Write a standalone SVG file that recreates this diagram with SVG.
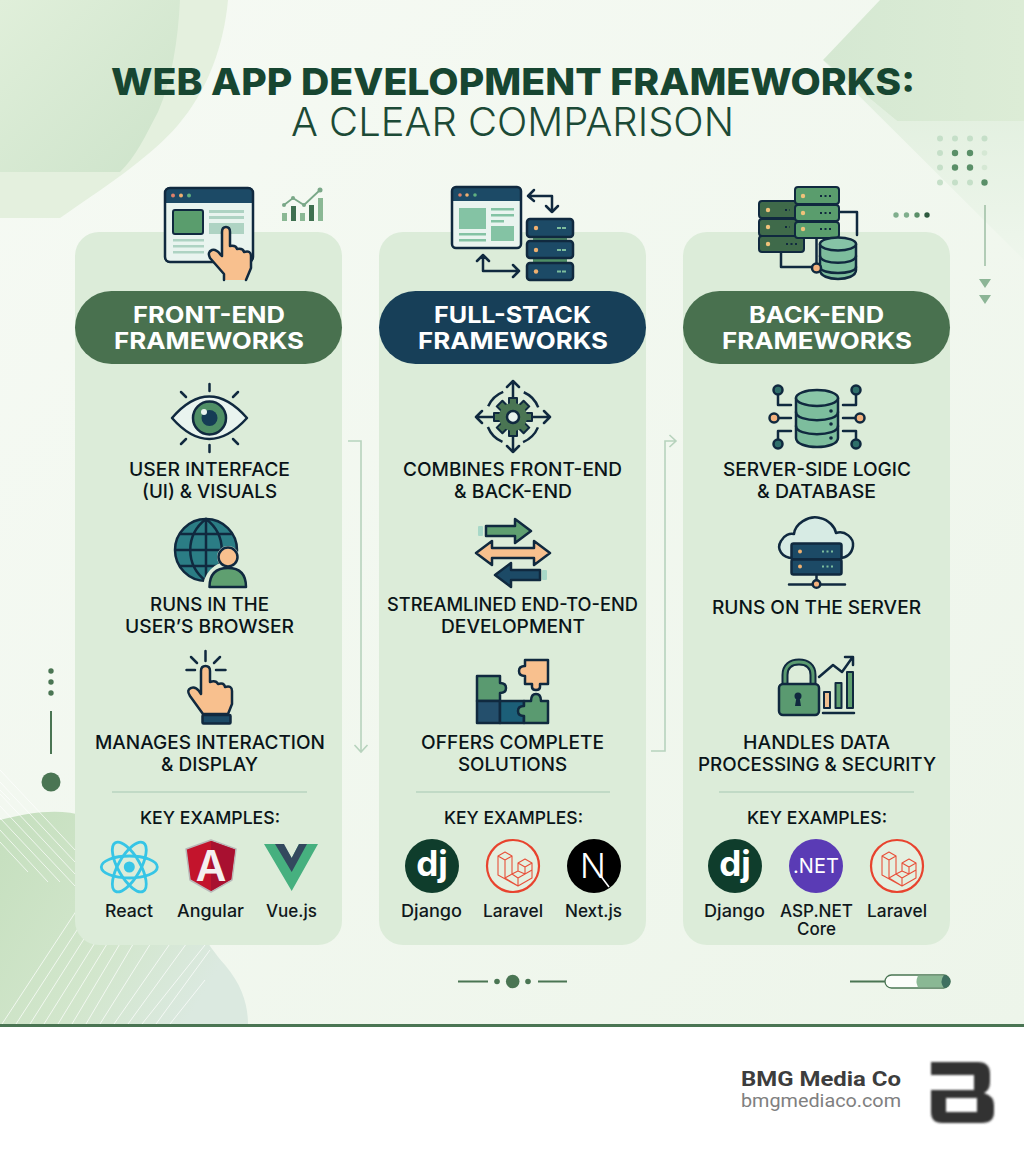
<svg xmlns="http://www.w3.org/2000/svg" xmlns:xlink="http://www.w3.org/1999/xlink" width="1024" height="1154" viewBox="0 0 1024 1154">
<style>
text{font-family:"Inter","Liberation Sans",sans-serif}
.card{fill:#dcecd9}
.t1{font-size:37px;font-weight:800;fill:#174631}
.t2{font-size:40px;font-weight:300;fill:#1c4a36}
.pt{font-size:23px;font-weight:700;fill:#fff}
.bt{font-size:19px;font-weight:500;fill:#0a1418}
.kt{font-size:17.5px;font-weight:500;fill:#0a1418}
.nt{font-size:17px;font-weight:500;fill:#10181c}
.ol{fill:none;stroke:#10293f;stroke-width:2.5;stroke-linecap:round;stroke-linejoin:round}
.o{stroke:#10293f;stroke-width:2.5;stroke-linejoin:round;stroke-linecap:round}
.thin{stroke:#10293f;stroke-width:2;stroke-linejoin:round}
.div{stroke:#b9d4bf;stroke-width:1.5}
.conn{fill:none;stroke:#b7d3bd;stroke-width:1.6}
.navy{fill:#1c4a66}.grn{fill:#5f9f70}.skin{fill:#f8c08e}.mint{fill:#7dbd9d}
.lar{fill:none;stroke:#e8503a;stroke-width:1.1;stroke-linejoin:round}
.dj{font-size:35px;font-weight:700;fill:#fff}
</style>
<defs>
<linearGradient id="bg" x1="0" y1="0" x2="1" y2="1"><stop offset="0" stop-color="#f6faf4"/><stop offset="1" stop-color="#edf5ea"/></linearGradient>
<linearGradient id="tl" x1="0" y1="0" x2="1" y2="1"><stop offset="0" stop-color="#e0efda"/><stop offset="1" stop-color="#cde3ca"/></linearGradient>
<linearGradient id="tr" x1="0" y1="0" x2="1" y2="0"><stop offset="0" stop-color="#d5e8d2"/><stop offset="1" stop-color="#dcecd6"/></linearGradient>
<linearGradient id="trb" x1="0" y1="0" x2="0" y2="1"><stop offset="0" stop-color="#dfeedc"/><stop offset="1" stop-color="#eef6ec"/></linearGradient>
<linearGradient id="bl" x1="0" y1="0" x2="1" y2="0.5"><stop offset="0" stop-color="#c5dfbe"/><stop offset="0.6" stop-color="#d2e6cc"/><stop offset="1" stop-color="#dbe9e0"/></linearGradient>
<filter id="blur" x="-10%" y="-10%" width="120%" height="120%"><feGaussianBlur stdDeviation="1.3"/></filter>
<g id="laravel">
<circle r="26" fill="#e4f0e0" stroke="#e8432e" stroke-width="2.2"/>
<path class="lar" d="M-15 -10L-8 -14L-1 -10L-8 -6ZM-15 -10V9L5 20L19 12V-3L12 -7L5 -3V5L-1 8V-10M-8 -6V12L5 20V12L19 4M-8 12L-1 8L5 12M5 -3L12 1L19 -3M12 1V8M5 5L12 8"/>
</g>
</defs>

<g id="background">
<rect width="1024" height="1027" fill="url(#bg)"/>
<path d="M0 0H228C224 45 208 90 178 125C150 158 100 190 60 218H0Z" fill="#e4f0de"/>
<path d="M0 0H180C178 40 172 80 158 112C146 135 135 158 120 172H0Z" fill="url(#tl)"/>
<path d="M823 60L1024 260V121H897Z" fill="url(#trb)"/>
<path d="M880 0H1024V121H897L823 60Z" fill="url(#tr)"/>
<path d="M0 820C30 812 60 808 85 816C150 835 190 925 225 965C242 985 248 1005 248 1024H0Z" fill="url(#bl)"/>
<g stroke="#fff" stroke-width="1" stroke-opacity=".7" fill="none">
<path d="M0 770L75 850M0 782L75 862M0 794L75 874M0 806L75 886M0 818L60 882M0 830L48 882M0 842L28 872M0 790L10 800"/>
<path d="M2 1024L90 890M16 1024L103 890M30 1024L115 890M44 1024L128 890M58 1024L140 890M72 1024L152 890M86 1024L165 890M100 1024L178 900M114 1024L190 915M128 1024L200 925M142 1024L205 945M156 1024L210 950M170 1024L205 980"/>
</g>
</g>

<g id="decor">
<g fill="#c5dfc8"><circle cx="940" cy="138.500" r="3"/><circle cx="955" cy="138.500" r="3"/><circle cx="970" cy="138.500" r="3"/><circle cx="984.500" cy="138.500" r="3"/><circle cx="940" cy="153" r="3"/><circle cx="984.500" cy="153" r="2.800" fill="#d5e8d4"/><circle cx="940" cy="167.500" r="3"/><circle cx="984.500" cy="167.500" r="2.800" fill="#d5e8d4"/><circle cx="940" cy="182.500" r="3"/><circle cx="955" cy="182.500" r="3"/><circle cx="970" cy="182.500" r="3"/></g>
<g fill="#5a8f68"><circle cx="955" cy="153" r="3.200"/><circle cx="970" cy="153" r="3.200"/><circle cx="955" cy="167.500" r="3.200"/><circle cx="970" cy="167.500" r="3.200"/><circle cx="984.500" cy="182.500" r="3.200"/></g>
<circle cx="896" cy="215" r="2.700" fill="#7fae8c"/><circle cx="906.500" cy="215" r="2.700" fill="#7fae8c"/><circle cx="917" cy="215" r="2.700" fill="#5a8f68"/><circle cx="927" cy="215" r="2.700" fill="#2d5a3e"/>
<path d="M985 205V266" stroke="#9dbea3" stroke-width="1.500"/>
<path d="M979 279H991L985 288ZM979 295H991L985 304Z" fill="#8cb596"/>
<g fill="#4a7553"><circle cx="51" cy="671" r="2.700"/><circle cx="51" cy="682" r="2.700"/><circle cx="51" cy="693" r="2.700"/><rect x="50" y="711" width="2" height="43"/><circle cx="51" cy="782" r="9.500"/></g>
<g stroke="#4a7553" stroke-width="1.800"><path d="M458 981.500H488M538 981.500H567M850 981.500H885"/></g>
<g fill="#4a7553"><circle cx="497" cy="981.500" r="2.800"/><circle cx="512.700" cy="981.500" r="6.800"/><circle cx="528" cy="981.500" r="2.800"/></g>
<rect x="885" y="975" width="65" height="13" rx="6.500" fill="#fbfdfa" stroke="#4a7553" stroke-width="1.300"/>
<path d="M918 975.700H944V987.300H918Q915 981.500 918 975.700Z" fill="#8ab894"/>
<path d="M944 975A6.500 6.500 0 0 1 944 988Q939 981.500 944 975Z" fill="#3f6f60"/>
</g>

<g id="title">
<text class="t1" x="111" y="95" textLength="804" lengthAdjust="spacingAndGlyphs">WEB APP DEVELOPMENT FRAMEWORKS:</text>
<text class="t2" x="291" y="136" textLength="443" lengthAdjust="spacingAndGlyphs">A CLEAR COMPARISON</text>
</g>

<g id="connectors">
<path class="conn" d="M348 441H361V751M354.500 745L361 752L367.500 745"/>
<path class="conn" d="M651 751H665V441H675M669.500 435L676 441L669.500 447"/>
</g>

<g id="front-end">
<rect class="card" x="75" y="232" width="267" height="713" rx="24"/>
<g id="fe-browser-icon">
<rect class="thin" x="165" y="188" width="88" height="74" rx="5" fill="#e9f4ef" stroke-width="2.500"/>
<path class="navy" d="M165 203V193Q165 188 170 188H248Q253 188 253 193V203Z"/>
<rect class="ol" x="165" y="188" width="88" height="74" rx="5"/>
<circle cx="173" cy="195.500" r="2" fill="#e0806a"/><circle cx="181" cy="195.500" r="2" fill="#f0b070"/><circle cx="189" cy="195.500" r="2" fill="#60b080"/>
<rect class="thin" x="173" y="210" width="30" height="24" rx="2" fill="#5a9d6d"/>
<g fill="#aed3c3"><rect x="209" y="210" width="35" height="3"/><rect x="209" y="216" width="35" height="3"/><rect x="209" y="223" width="35" height="11"/><rect x="173" y="239" width="31" height="2.500"/><rect x="173" y="245" width="31" height="2.500"/><rect x="173" y="251" width="31" height="2.500"/></g>
<path class="skin o" d="M224 280V274L210 258Q207 252 212 250Q216 249 220 254L222 256V232Q222 227 226 227Q230 227 230 232V246Q236 245 237 249Q243 248 244 252Q251 250 251 256V268L246 280"/>
</g>
<g id="fe-chart-icon">
<rect x="282" y="213" width="5" height="8" fill="#8ab894"/><rect x="291" y="206" width="5" height="15" fill="#3f7050"/><rect x="300" y="213" width="5" height="8" fill="#8ab894"/><rect x="309" y="205" width="5" height="16" fill="#3f7050"/><rect x="318" y="198" width="5" height="23" fill="#8ab894"/>
<path d="M284 205L293 198L304 205L320 190" fill="none" stroke="#7aa888" stroke-width="1.800"/>
<g fill="#7aa888"><circle cx="284" cy="205" r="2"/><circle cx="293" cy="198" r="2"/><circle cx="304" cy="205" r="2"/><circle cx="320" cy="190" r="2.500"/></g>
</g>
<rect x="75" y="291" width="267" height="73" rx="36.500" fill="#49714f"/>
<text class="pt" x="133" y="323" textLength="152" lengthAdjust="spacingAndGlyphs">FRONT-END</text>
<text class="pt" x="114" y="349" textLength="190" lengthAdjust="spacingAndGlyphs">FRAMEWORKS</text>
<g id="fe-eye">
<path class="o" d="M172 418Q209 375 247 418Q209 460 172 418Z" fill="#e9f4ef"/>
<circle class="o" cx="209.500" cy="418" r="16.500" fill="#4f8f66"/><circle cx="209.500" cy="418" r="8" fill="#153c55"/><circle cx="204" cy="412" r="3" fill="#e9f4ef"/>
<path class="ol" d="M209.500 384V391M209.500 445V452M181 392L186 397M238 392L233 397M181 444L186 439M238 444L233 439"/>
<text class="bt" x="129" y="476" textLength="161" lengthAdjust="spacingAndGlyphs">USER INTERFACE</text>
<text class="bt" x="142" y="498" textLength="135" lengthAdjust="spacingAndGlyphs">(UI) &amp; VISUALS</text>
</g>
<g id="fe-globe">
<circle class="o" cx="206" cy="550" r="31" fill="#2b7d85"/>
<path class="ol" d="M206 519V581M176 550H236M180 534H232M180 566H232M206 519C185 535 185 565 206 581M206 519C227 535 227 565 206 581"/>
<path d="M206 589A20 22 0 0 1 250 589Z" fill="#dcecd9" stroke="#dcecd9" stroke-width="6"/>
<circle cx="228" cy="557" r="11" fill="#dcecd9"/>
<circle class="o" cx="228" cy="557" r="9.500" fill="#f8c08e"/>
<path class="grn o" d="M209.500 587Q209.500 568 228 568Q246 568 246 587Z"/>
<text class="bt" x="150" y="611" textLength="119" lengthAdjust="spacingAndGlyphs">RUNS IN THE</text>
<text class="bt" x="125" y="633" textLength="169" lengthAdjust="spacingAndGlyphs">USER’S BROWSER</text>
</g>
<g id="fe-click">
<path class="ol" d="M205.500 651V661M186.500 670H195M216 670H225.500M191 657L197 663M220 657L214 663"/>
<path class="skin o" d="M203 714L190 696Q186 690 191 688Q195 686 199 691L201 694V671Q201 666 205.500 666Q210 666 210 671V682Q216 680 218 684Q224 682 225 687Q232 685 232 691V704L228 714Z"/>
<rect class="o navy" x="202.500" y="715" width="28" height="8.500" rx="1"/>
<text class="bt" x="95" y="749" textLength="230" lengthAdjust="spacingAndGlyphs">MANAGES INTERACTION</text>
<text class="bt" x="161" y="771" textLength="97" lengthAdjust="spacingAndGlyphs">&amp; DISPLAY</text>
</g>
<path class="div" d="M112 792H307"/>
<text class="kt" x="140" y="824" textLength="140" lengthAdjust="spacingAndGlyphs">KEY EXAMPLES:</text>
<g id="react-logo" fill="none" stroke="#36c5e6" stroke-width="2.800">
<ellipse cx="129.300" cy="867" rx="28" ry="11"/><ellipse cx="129.300" cy="867" rx="28" ry="11" transform="rotate(60 129.300 867)"/><ellipse cx="129.300" cy="867" rx="28" ry="11" transform="rotate(120 129.300 867)"/>
<circle cx="129.300" cy="867" r="5.500" fill="#36c5e6" stroke="none"/>
</g>
<text class="nt" x="105" y="917" textLength="48" lengthAdjust="spacingAndGlyphs">React</text>
<g id="angular-logo">
<path d="M211 840L236 849L232 880L211 892L190 880L186 849Z" fill="#c3142c" stroke="#b9b9b9" stroke-width="1.500" stroke-linejoin="round"/>
<path d="M211 841L235 849.500L231 879.500L211 891Z" fill="#a81030"/>
<text x="211" y="881" text-anchor="middle" font-size="42" font-weight="600" fill="#f4f0f0">A</text>
</g>
<text class="nt" x="177" y="917" textLength="67" lengthAdjust="spacingAndGlyphs">Angular</text>
<g id="vue-logo">
<path d="M264 844H283L291.700 858L299 844H318L291.700 891Z" fill="#46b07f"/>
<path d="M275 844H284L291.700 858L299 844H307L291.700 872Z" fill="#33495e"/>
</g>
<text class="nt" x="266" y="917" textLength="51" lengthAdjust="spacingAndGlyphs">Vue.js</text>
</g>

<g id="full-stack">
<rect class="card" x="379" y="232" width="267" height="713" rx="24"/>
<g id="fs-top-icon">
<rect x="452" y="187" width="69" height="61" rx="4" fill="#e9f4ef"/>
<path class="navy" d="M452 201V191Q452 187 456 187H517Q521 187 521 191V201Z"/>
<rect class="ol" x="452" y="187" width="69" height="61" rx="4"/>
<circle cx="460" cy="195" r="1.800" fill="#e0806a"/><circle cx="467" cy="195" r="1.800" fill="#f0b070"/><circle cx="475" cy="195" r="1.800" fill="#60b080"/>
<g fill="#84c3a4"><rect x="459" y="208" width="27" height="21"/><rect x="491" y="208" width="23" height="2.500"/><rect x="491" y="214" width="23" height="2.500"/><rect x="491" y="220" width="13" height="2.500"/><rect x="491" y="226" width="23" height="15"/><rect x="459" y="233" width="27" height="2.500"/><rect x="459" y="239" width="27" height="2.500"/></g>
<rect x="533" y="236" width="34" height="6" fill="#4f8f66"/><rect x="533" y="258" width="34" height="6" fill="#4f8f66"/>
<rect class="o navy" x="527" y="219" width="46" height="18" rx="3"/><rect class="o navy" x="527" y="241" width="46" height="17" rx="3"/><rect class="o navy" x="527" y="263" width="46" height="17" rx="3"/>
<g fill="#f0b070"><circle cx="536" cy="228" r="2.200"/><circle cx="536" cy="250" r="2.200"/><circle cx="536" cy="271.500" r="2.200"/></g>
<path d="M557 228H566M557 250H566M557 271.500H566" stroke="#7dbd9d" stroke-width="2" stroke-dasharray="4 1"/>
<path class="ol" d="M534 190L528 196L534 201M528 196H552V212M546 206L552 212L558 206"/>
<path class="ol" d="M477 261L483 255L489 261M483 255V271H519M513 265L519 271L513 277"/>
</g>
<rect x="379" y="291" width="267" height="73" rx="36.500" fill="#173f58"/>
<text class="pt" x="434" y="323" textLength="157" lengthAdjust="spacingAndGlyphs">FULL-STACK</text>
<text class="pt" x="418" y="349" textLength="190" lengthAdjust="spacingAndGlyphs">FRAMEWORKS</text>
<g id="fs-gear">
<path class="ol" d="M513 381V400M513 434V452M476 417H495M531 417H550M507 387L513 381L519 387M507 446L513 452L519 446M482 411L476 417L482 423M544 411L550 417L544 423"/>
<circle cx="513" cy="417" r="27" fill="none" stroke="#10293f" stroke-width="2.500" stroke-dasharray="21.400 21" stroke-dashoffset="-10.600"/>
<g class="thin" fill="#10293f"><rect x="509" y="398" width="8" height="38"/><rect x="509" y="398" width="8" height="38" transform="rotate(45 513 417)"/><rect x="509" y="398" width="8" height="38" transform="rotate(90 513 417)"/><rect x="509" y="398" width="8" height="38" transform="rotate(135 513 417)"/></g>
<g fill="#4a7553"><rect x="510" y="399" width="6" height="36"/><rect x="510" y="399" width="6" height="36" transform="rotate(45 513 417)"/><rect x="510" y="399" width="6" height="36" transform="rotate(90 513 417)"/><rect x="510" y="399" width="6" height="36" transform="rotate(135 513 417)"/><circle cx="513" cy="417" r="14"/></g>
<circle class="o" cx="513" cy="417" r="6" fill="#e9f4ef"/>
<text class="bt" x="403" y="476" textLength="219" lengthAdjust="spacingAndGlyphs">COMBINES FRONT-END</text>
<text class="bt" x="454" y="498" textLength="118" lengthAdjust="spacingAndGlyphs">&amp; BACK-END</text>
</g>
<g id="fs-arrows">
<rect x="478" y="526" width="5" height="10" rx="1" fill="#a8d8c8"/><rect x="542" y="570" width="5" height="10" rx="1" fill="#a8d8c8"/>
<path class="grn o" d="M486 526H515V519L531 531L515 543V536H486Z"/>
<path class="skin o" d="M476 553L492 541V548H534V541L550 553L534 565V558H492V565Z"/>
<path class="navy o" d="M540 570H511V563L495 575L511 587V580H540Z"/>
<text class="bt" x="387" y="611" textLength="251" lengthAdjust="spacingAndGlyphs">STREAMLINED END-TO-END</text>
<text class="bt" x="441" y="633" textLength="144" lengthAdjust="spacingAndGlyphs">DEVELOPMENT</text>
</g>
<g id="fs-puzzle">
<path class="o" fill="#5a9a70" d="M477 676H500V683Q506 683 506 688Q506 693 500 693V701H477Z"/>
<rect class="o" x="477" y="701" width="23" height="22" fill="#244f6c"/>
<rect class="o" x="500" y="701" width="24" height="22" fill="#1c5f78"/>
<path class="o" fill="#5a9a70" d="M524 701H531Q531 694 536 694Q541 694 541 701H548V723H524V716Q518 716 518 711Q518 706 524 706Z"/>
<path class="o skin" d="M525 660H548V684H540V687Q540 690 536 690Q532 690 532 687V684H525V676Q519 676 519 671Q519 666 525 666Z"/>
<text class="bt" x="421" y="749" textLength="183" lengthAdjust="spacingAndGlyphs">OFFERS COMPLETE</text>
<text class="bt" x="458" y="771" textLength="109" lengthAdjust="spacingAndGlyphs">SOLUTIONS</text>
</g>
<path class="div" d="M416 792H610"/>
<text class="kt" x="444" y="824" textLength="139" lengthAdjust="spacingAndGlyphs">KEY EXAMPLES:</text>
<g id="fs-django"><circle cx="432" cy="866" r="27" fill="#0f3d2c"/><text class="dj" x="432" y="876" text-anchor="middle">dj</text></g>
<text class="nt" x="401" y="917" textLength="61" lengthAdjust="spacingAndGlyphs">Django</text>
<use id="fs-laravel" xlink:href="#laravel" href="#laravel" x="513" y="866"/>
<text class="nt" x="483" y="917" textLength="60" lengthAdjust="spacingAndGlyphs">Laravel</text>
<g id="nextjs-logo"><circle cx="594" cy="866" r="27" fill="#000"/><text x="593" y="878" text-anchor="middle" font-size="34" font-weight="300" fill="#fff">N</text><path d="M600 875L609 887" stroke="#fff" stroke-width="1.500"/></g>
<text class="nt" x="565" y="917" textLength="57" lengthAdjust="spacingAndGlyphs">Next.js</text>
</g>

<g id="back-end">
<rect class="card" x="683" y="232" width="267" height="713" rx="24"/>
<g id="be-top-icon">
<path class="ol" d="M839 212H857V235M781 252V267H822M816.500 238V267"/>
<g class="thin" fill="#3f6a4a" stroke-width="2.500"><rect x="759" y="201" width="45" height="17" rx="3"/><rect x="759" y="219" width="45" height="17" rx="3"/><rect x="759" y="236" width="45" height="16" rx="3"/></g>
<g class="thin" fill="#5a9d6d" stroke-width="2.500"><rect x="795" y="187" width="44" height="17" rx="3"/><rect x="795" y="205" width="44" height="16" rx="3"/><rect x="795" y="222" width="44" height="16" rx="3"/></g>
<g fill="#f0c27a"><circle cx="768" cy="210" r="2.200"/><circle cx="768" cy="227" r="2.200"/><circle cx="768" cy="244" r="2.200"/><circle cx="803" cy="196" r="2.200"/><circle cx="803" cy="213" r="2.200"/><circle cx="803" cy="229" r="2.200"/></g>
<path d="M785 210H790M785 227H790M786 244H799M820 196H833M820 213H833M820 229H833" stroke="#10293f" stroke-width="2" stroke-dasharray="2 2.500"/>
<path class="o" fill="#7dbd9d" d="M820 244V270C820 282 856 282 856 270V244Z"/>
<ellipse class="o" cx="838" cy="244" rx="18" ry="6.500" fill="#86c3a6"/>
<path class="ol" d="M820 256C820 265 856 265 856 256M820 267C820 275 856 275 856 267"/>
<circle class="o" cx="816.500" cy="268" r="4.500" fill="#f4b27e"/>
</g>
<rect x="683" y="291" width="267" height="73" rx="36.500" fill="#49714f"/>
<text class="pt" x="749" y="323" textLength="135" lengthAdjust="spacingAndGlyphs">BACK-END</text>
<text class="pt" x="722" y="349" textLength="190" lengthAdjust="spacingAndGlyphs">FRAMEWORKS</text>
<g id="be-db">
<path class="ol" d="M778 395V405H791M779 418H791M778 439V431H791M856 395V405H843M855 418H843M856 439V431H843"/>
<circle class="o" cx="778" cy="390" r="4.500" fill="#2f6f6a"/><circle class="o" cx="774" cy="418" r="4.500" fill="#f4b27e"/><circle class="o" cx="778" cy="444" r="4.500" fill="#2f6f6a"/><circle class="o" cx="856" cy="390" r="4.500" fill="#2f6f6a"/><circle class="o" cx="860" cy="418" r="4.500" fill="#f4b27e"/><circle class="o" cx="856" cy="444" r="4.500" fill="#2f6f6a"/>
<path class="o mint" d="M796 398V438C796 450 838 450 838 438V398Z"/>
<ellipse class="o" cx="817" cy="398" rx="21" ry="8" fill="#8ac6a8"/>
<path class="ol" d="M796 412C796 423 838 423 838 412M796 426C796 437 838 437 838 426"/>
<g fill="#10293f"><circle cx="831" cy="411" r="1.800"/><circle cx="831" cy="424" r="1.800"/><circle cx="831" cy="438" r="1.800"/></g>
<text class="bt" x="723" y="476" textLength="188" lengthAdjust="spacingAndGlyphs">SERVER-SIDE LOGIC</text>
<text class="bt" x="757" y="498" textLength="119" lengthAdjust="spacingAndGlyphs">&amp; DATABASE</text>
</g>
<g id="be-cloud">
<path class="o" fill="#d7ebe4" d="M793 558C782 558 776 549 781 541C784 535 790 533 794 534C795 524 808 515 820 518C829 520 835 527 836 533C845 530 854 538 853 546C852 554 846 558 840 558Z"/>
<rect class="o navy" x="791.500" y="543.500" width="50" height="16" rx="2"/><rect class="o navy" x="791.500" y="559.500" width="50" height="15" rx="2"/>
<circle cx="800" cy="551.500" r="2" fill="#f0b070"/><circle cx="800" cy="566.500" r="2" fill="#f0b070"/>
<path d="M822 551.500H835M822 566.500H835" stroke="#7dbd9d" stroke-width="2" stroke-dasharray="2 2.500"/>
<path class="ol" d="M816.500 575V580M789 584.500H845"/>
<circle class="o" cx="816.500" cy="584" r="3.800" fill="#f4b27e"/>
<text class="bt" x="712" y="614" textLength="209" lengthAdjust="spacingAndGlyphs">RUNS ON THE SERVER</text>
</g>
<g id="be-lock">
<path d="M785 684V675C785 666 791 662 799 662C807 662 813 666 813 675V684" fill="none" stroke="#10293f" stroke-width="7"/>
<path d="M785 684V675C785 666 791 662 799 662C807 662 813 666 813 675V684" fill="none" stroke="#5a9a70" stroke-width="3"/>
<rect class="o" x="779" y="684" width="40" height="31" rx="4" fill="#5a9a70"/>
<circle cx="798" cy="696" r="3.500" fill="#10293f"/><path d="M796.500 697H799.500L801 706H795Z" fill="#10293f"/>
<rect class="thin" x="824" y="692" width="6" height="16" fill="#f0c090" stroke-width="1.500"/><rect class="thin" x="835.500" y="683" width="6" height="25" fill="#5f9f70" stroke-width="1.500"/><rect class="thin" x="847" y="672" width="6" height="36" fill="#5f9f70" stroke-width="1.500"/>
<path class="ol" d="M823 713H854" stroke-width="2"/>
<path class="ol" d="M819 677L833 665L842 672L852 658M845 657H853V665" stroke-width="1.800"/>
<text class="bt" x="743" y="749" textLength="147" lengthAdjust="spacingAndGlyphs">HANDLES DATA</text>
<text class="bt" x="698" y="771" textLength="238" lengthAdjust="spacingAndGlyphs">PROCESSING &amp; SECURITY</text>
</g>
<path class="div" d="M719 792H914"/>
<text class="kt" x="747" y="824" textLength="140" lengthAdjust="spacingAndGlyphs">KEY EXAMPLES:</text>
<g id="be-django"><circle cx="735" cy="866" r="27" fill="#0f3d2c"/><text class="dj" x="735" y="876" text-anchor="middle">dj</text></g>
<text class="nt" x="704" y="917" textLength="61" lengthAdjust="spacingAndGlyphs">Django</text>
<g id="aspnet-logo"><circle cx="816" cy="866" r="27" fill="#5a3bb5"/><text x="816" y="873" text-anchor="middle" font-size="20" font-weight="400" fill="#fff">.NET</text></g>
<text class="nt" x="780" y="917" textLength="73" lengthAdjust="spacingAndGlyphs">ASP.NET</text>
<text class="nt" x="797" y="935" textLength="39" lengthAdjust="spacingAndGlyphs">Core</text>
<use id="be-laravel" xlink:href="#laravel" href="#laravel" x="897" y="866"/>
<text class="nt" x="867" y="917" textLength="60" lengthAdjust="spacingAndGlyphs">Laravel</text>
</g>

<g id="footer">
<rect y="1024" width="1024" height="3" fill="#4a7553"/>
<rect y="1027" width="1024" height="127" fill="#fff"/>
<text x="741" y="1085.500" textLength="160" lengthAdjust="spacingAndGlyphs" style="font-family:Roboto,'Liberation Sans',sans-serif;font-size:21px;font-weight:700;fill:#3d3d3d">BMG Media Co</text>
<text x="741" y="1107" textLength="160" lengthAdjust="spacingAndGlyphs" style="font-family:Roboto,'Liberation Sans',sans-serif;font-size:18px;font-weight:400;fill:#808080">bmgmediaco.com</text>
<path d="M931 1062H978Q990 1062 990 1074V1082Q990 1090 984 1093Q994 1096 994 1105V1112Q994 1123 982 1123H942Q931 1123 931 1112V1090H974V1075H931ZM946 1098V1112H977V1098Z" fill="#333" fill-rule="evenodd" filter="url(#blur)"/>
</g>
</svg>
